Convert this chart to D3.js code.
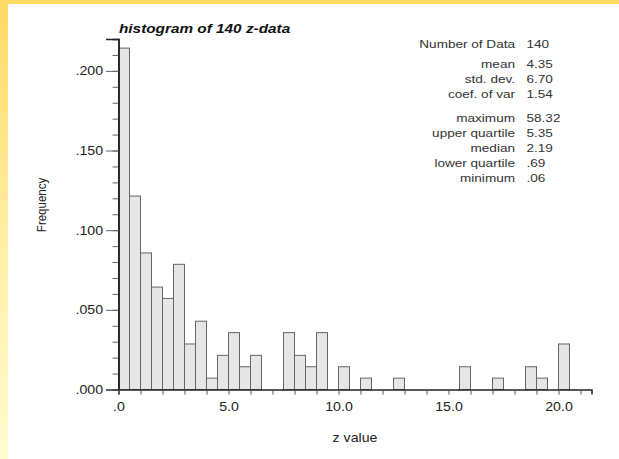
<!DOCTYPE html>
<html>
<head>
<meta charset="utf-8">
<script src="https://cdn.jsdelivr.net/npm/d3@7"></script>
<style>
  html, body { margin: 0; padding: 0; background: #fff; }
  svg { display: block; font-family: "Liberation Sans", Arial, sans-serif; }
</style>
</head>
<body>
<div id="chart"></div>
<script>
// data: lower edge of each 0.5 wide bin, and counts
var binLo = [0.0, 0.5, 1.0, 1.5, 2.0, 2.5, 3.0, 3.5, 4.0, 4.5,
             5.0, 5.5, 6.0, 6.5, 7.0, 7.5, 8.0, 8.5, 9.0, 9.5,
             10.0, 10.5, 11.0, 11.5, 12.0, 12.5, 15.5, 17.0, 18.5, 19.0, 20.0];
var counts = [30, 17, 12, 9, 8, 11, 4, 6, 1, 3,
              5, 2, 3, 0, 0, 5, 3, 2, 5, 0,
              2, 0, 1, 0, 0, 1, 2, 1, 2, 1, 4];
var binWidth = 0.5;
var nData = 140;

var statLabels = ["Number of Data", "mean", "std. dev.", "coef. of var",
                  "maximum", "upper quartile", "median", "lower quartile", "minimum"];
var statValues = ["140", "4.35", "6.70", "1.54", "58.32", "5.35", "2.19", ".69", ".06"];
var statGroup = [0, 1, 1, 1, 2, 2, 2, 2, 2];

var xMajor = [0, 5, 10, 15, 20];
var yMajor = [0, 0.05, 0.1, 0.15, 0.2];

// chart
var W = 619, H = 459;
var SX = 1.18; // the picture is a bit stretched sideways, text too

var svg = d3.select("#chart").append("svg")
    .attr("width", W)
    .attr("height", H);

var defs = svg.append("defs");
var grad = defs.append("linearGradient")
    .attr("id", "edge")
    .attr("x1", 0).attr("y1", 0).attr("x2", 0).attr("y2", 1);
grad.append("stop").attr("offset", "0%").attr("stop-color", "#ffd966");
grad.append("stop").attr("offset", "55%").attr("stop-color", "#fff0a8");
grad.append("stop").attr("offset", "100%").attr("stop-color", "#fffcd0");

svg.append("rect").attr("width", W).attr("height", H).attr("fill", "#fff");
svg.append("rect").attr("x", 0).attr("y", 0).attr("width", 8).attr("height", H).attr("fill", "url(#edge)");
svg.append("rect").attr("x", 0).attr("y", 0).attr("width", W).attr("height", 4).attr("fill", "#ffd966");

var x = d3.scaleLinear().domain([0, 21.5]).range([118.5, 591.5]);
var y = d3.scaleLinear().domain([0, 0.22]).range([389.5, 39]);

function stretchText(sel) {
	// move the x/y of a tick label into a transform so it can be widened
	sel.each(function() {
		var t = d3.select(this);
		var tx = +t.attr("x") || 0;
		var ty = +t.attr("y") || 0;
		t.attr("x", 0).attr("y", 0)
		 .attr("transform", "translate(" + tx + "," + ty + ") scale(" + SX + ",1)");
	});
}

// bars
svg.append("g")
	.selectAll("rect")
	.data(binLo)
	.enter().append("rect")
	  .attr("x", function(d) { return x(d); })
	  .attr("y", function(d, i) { return y(counts[i] / nData); })
	  .attr("width", function(d) { return x(d + binWidth) - x(d); })
	  .attr("height", function(d, i) { return y(0) - y(counts[i] / nData); })
	  .attr("fill", "#e6e6e6")
	  .attr("stroke", "#666")
	  .attr("stroke-width", 1);

// y axis: minor ticks every .01, labels every .05
var yMinor = d3.axisLeft(y).ticks(22).tickSize(6).tickFormat("");
var yAxisMajor = d3.axisLeft(y).tickValues(yMajor).tickSize(12.5).tickPadding(3)
	.tickFormat(function(d) { return d3.format(".3f")(d).replace(/^0/, ""); });

var gy = svg.append("g").attr("transform", "translate(118.5,0)");
gy.call(yMinor);
gy.append("g").call(yAxisMajor);
gy.selectAll("path.domain").attr("stroke", "#222").attr("stroke-width", 1.5);
gy.selectAll(".tick line").attr("stroke", "#666");
gy.selectAll("text")
	.attr("font-size", 12)
	.attr("fill", "#222")
	.attr("font-family", "Liberation Sans, Arial, sans-serif")
	.call(stretchText);

// x axis: ticks every 1.0, labels every 5.0
var xAxis = d3.axisBottom(x).ticks(21).tickSize(5).tickPadding(8)
	.tickFormat(function(d) {
		if (xMajor.indexOf(d) === -1) return "";
		return d === 0 ? ".0" : d3.format(".1f")(d);
	});
var gx = svg.append("g").attr("transform", "translate(0," + y(0) + ")").call(xAxis);
gx.select("path.domain").attr("stroke", "#222").attr("stroke-width", 1.5);
gx.selectAll(".tick line").attr("stroke", "#555");
gx.selectAll("text")
	.attr("font-size", 12)
	.attr("fill", "#222")
	.attr("font-family", "Liberation Sans, Arial, sans-serif")
	.call(stretchText);

// titles
svg.append("text")
	.attr("transform", "translate(119,33) scale(" + SX + ",1)")
	.attr("font-size", 13)
	.attr("font-weight", "bold")
	.attr("font-style", "italic")
	.attr("fill", "#111")
	.text("histogram of 140 z-data");

svg.append("text")
	.attr("transform", "translate(46,205) scale(" + SX + ",1) rotate(-90)")
	.attr("text-anchor", "middle")
	.attr("font-size", 11.5)
	.attr("fill", "#222")
	.text("Frequency");

svg.append("text")
	.attr("transform", "translate(355,442) scale(" + SX + ",1)")
	.attr("text-anchor", "middle")
	.attr("font-size", 12)
	.attr("fill", "#222")
	.text("z value");

// stats block
var rowY = [];
var yy = 44;
statLabels.forEach(function(d, i) {
	if (i > 0) yy += 15 + (statGroup[i] !== statGroup[i - 1] ? (statGroup[i] === 1 ? 5.3 : 9) : 0);
	rowY.push(yy);
});

var stats = svg.append("g")
	.attr("font-size", 11.5)
	.attr("fill", "#333");
stats.selectAll("text.lab")
	.data(statLabels)
	.enter().append("text")
	  .attr("class", "lab")
	  .attr("text-anchor", "end")
	  .attr("dy", "0.35em")
	  .attr("transform", function(d, i) { return "translate(515," + rowY[i] + ") scale(" + SX + ",1)"; })
	  .text(function(d) { return d; });
stats.selectAll("text.val")
	.data(statValues)
	.enter().append("text")
	  .attr("class", "val")
	  .attr("dy", "0.35em")
	  .attr("transform", function(d, i) { return "translate(526.5," + rowY[i] + ") scale(" + SX + ",1)"; })
	  .text(function(d) { return d; });
</script>
</body>
</html>
